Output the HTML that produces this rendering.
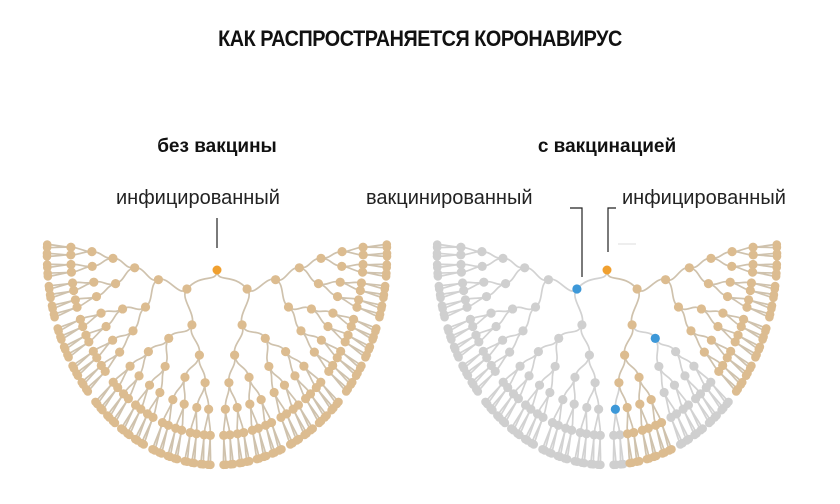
<!DOCTYPE html>
<html><head><meta charset="utf-8">
<style>
html,body{margin:0;padding:0;background:#fff;}
body{width:840px;height:504px;overflow:hidden;position:relative;font-family:"Liberation Sans","DejaVu Sans",sans-serif;}
.t{position:absolute;white-space:nowrap;color:#111;}
</style></head><body>
<div class="t" style="left:0;width:840px;top:26px;text-align:center;font-weight:bold;font-size:22px;letter-spacing:-0.5px;transform:scaleX(0.9);">КАК РАСПРОСТРАНЯЕТСЯ КОРОНАВИРУС</div>
<div class="t" style="left:117px;width:200px;top:136px;text-align:center;font-weight:bold;font-size:19px;">без вакцины</div>
<div class="t" style="left:507px;width:200px;top:136px;text-align:center;font-weight:bold;font-size:19px;">с вакцинацией</div>
<div class="t" style="left:116px;top:187px;font-size:20px;color:#222;">инфицированный</div>
<div class="t" style="left:366px;top:187px;font-size:20px;color:#222;">вакцинированный</div>
<div class="t" style="left:622px;top:187px;font-size:20px;color:#222;">инфицированный</div>
<svg id="s" width="840" height="504" style="position:absolute;left:0;top:0">
<line x1="217" y1="218" x2="217" y2="248" stroke="#222" stroke-width="1.2"/>
<polyline points="570,208 582,208 582,277" fill="none" stroke="#222" stroke-width="1.2"/>
<polyline points="616,208 608,208 608,252" fill="none" stroke="#222" stroke-width="1.2"/>
<line x1="618" y1="244" x2="636" y2="244" stroke="#ddd" stroke-width="1"/>
</svg>
<script>
(function(){
var s=document.getElementById('s'),NS='http://www.w3.org/2000/svg';
var D=7,N=1<<D;
var gapW=[0,3,2.6,2.2,1.8,1.5,1.1,0.55];
var ang=[0],acc=0;
for(var i=1;i<N;i++){
  var x=(i-1)^i;
  var hb=0;while((1<<hb)<=x)hb++;
  var lvl=D-hb;
  acc+=gapW[lvl+1]||1;ang.push(acc);
}
var T0=-0.05,T1=Math.PI+0.05;
ang=ang.map(function(a){return T0+(T1-T0)*a/acc;});
function build(cx,cy,vacc){
  var rx=170,ry=210;
  var links=[],nodes=[];
  function pos(t,r){return [cx-rx*r*Math.cos(t),cy+ry*r*Math.sin(t)];}
  function rec(path,d,lo,hi,grey){
    var key=path.join('');
    var blue=vacc&&vacc.indexOf(key)>=0;
    var g=grey||blue;
    var t=(ang[lo]+ang[hi-1])/2;
    var r=d==0?0:(d==D?1:0.24+0.62*(d-1)/(D-2));
    var p=d==0?[cx,cy+15]:pos(t,r);
    var n={p:p,t:t,r:r,d:d,grey:g,blue:blue};
    if(d<D){
      var m=(lo+hi)/2;
      [[lo,m],[m,hi]].forEach(function(iv,i){
        var c=rec(path.concat([i]),d+1,iv[0],iv[1],g);
        links.push([n,c,c.grey]);
      });
    }
    nodes.push(n);return n;
  }
  rec([],0,0,N,false);
  links.forEach(function(l){
    var a=l[0],b=l[1];
    var rm=(a.r+b.r)/2;
    var c1=a.d==0?[a.p[0],a.p[1]+14]:pos(a.t,rm),c2=pos(b.t,rm);
    var e=document.createElementNS(NS,'path');
    e.setAttribute('d','M'+a.p+' C'+c1+' '+c2+' '+b.p);
    e.setAttribute('fill','none');
    e.setAttribute('stroke',l[2]?'#d2d2d2':'#cfc2ad');
    e.setAttribute('stroke-width','1.7');
    s.appendChild(e);
  });
  nodes.forEach(function(n){
    var e=document.createElementNS(NS,'circle');
    e.setAttribute('cx',n.p[0]);e.setAttribute('cy',n.p[1]);
    e.setAttribute('r',n.d==0?4.5:(n.d==D?4.3:4.6));
    var col=n.d==0?'#f0a030':n.blue?'#3d98d8':n.grey?'#cfcfcf':'#dcbc90';
    e.setAttribute('fill',col);
    s.appendChild(e);
  });
}
build(217,255,null);
build(607,255,['0','101','10000']);
})();
</script>
</body></html>
